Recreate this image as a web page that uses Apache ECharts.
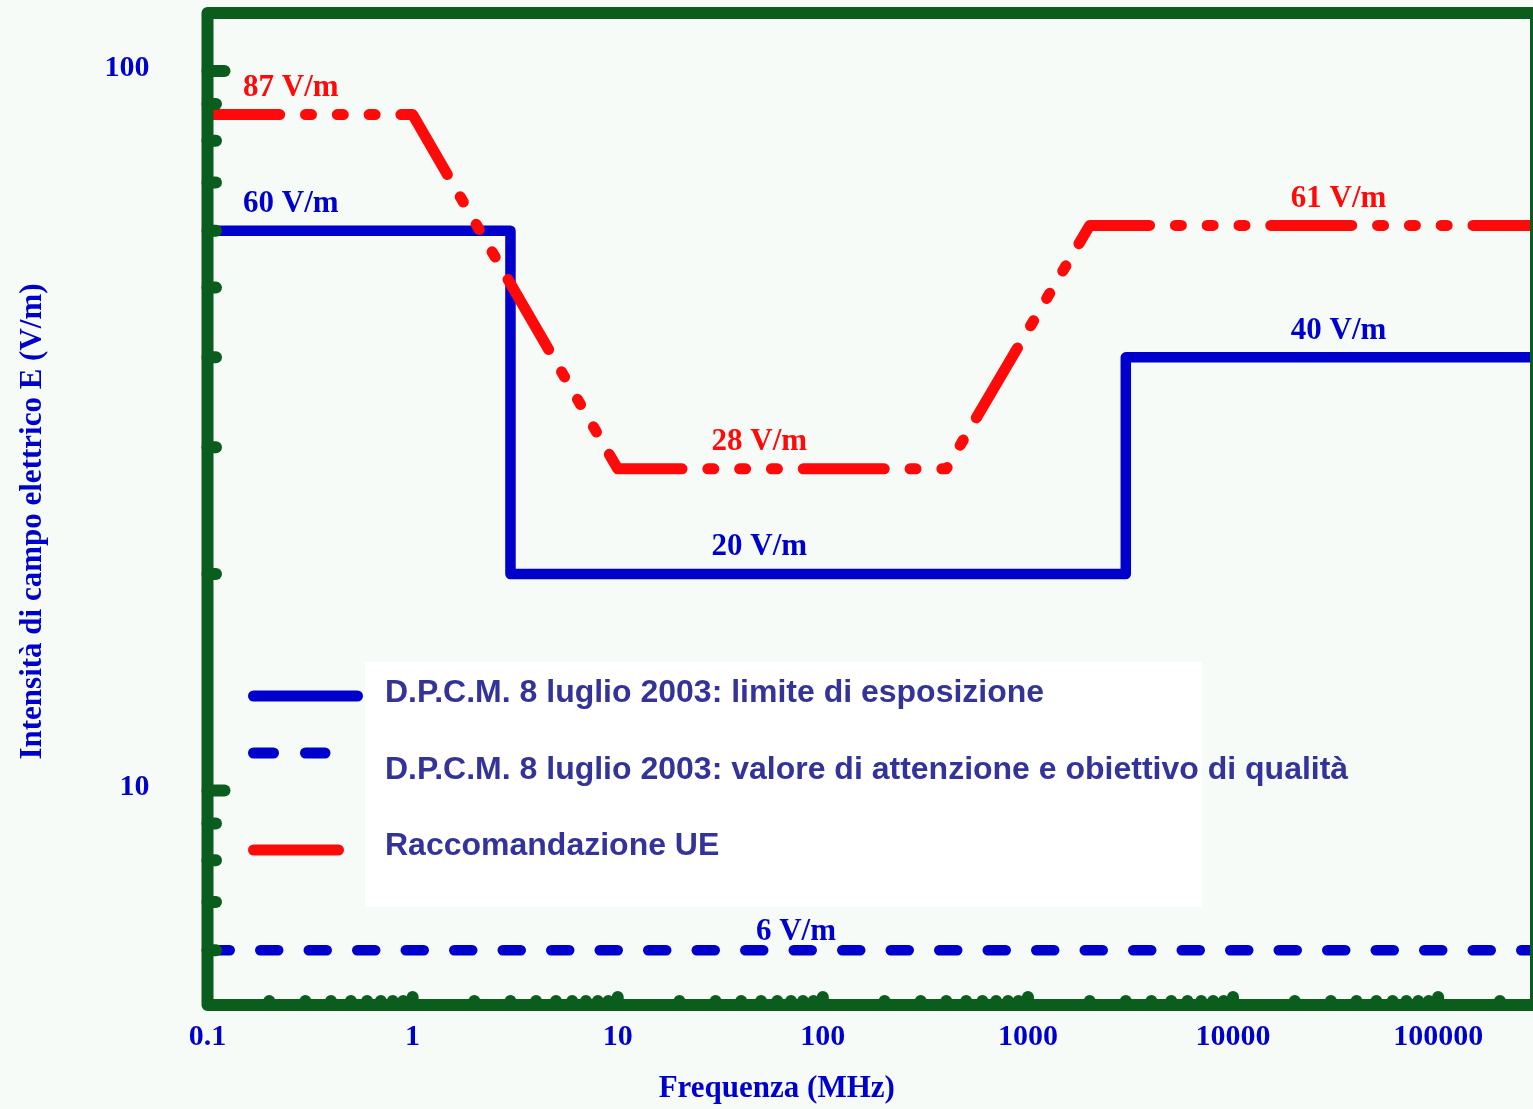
<!DOCTYPE html>
<html>
<head>
<meta charset="utf-8">
<title>Limiti di esposizione ai campi elettrici</title>
<script src="https://cdn.jsdelivr.net/npm/echarts@6/dist/echarts.min.js"></script>
<style>
  html, body { margin: 0; padding: 0; background: #f6fbf7; }
  #chart { width: 1533px; height: 1109px; }
</style>
</head>
<body>
<div id="chart"></div>
<script>
// Frequency breakpoints (MHz) and electric field strengths (V/m)
const limitFreq = [0.1, 3, 3, 3000, 3000, 300000];
const limitE = [60, 60, 20, 20, 40, 40];

const attentionFreq = [0.1, 300000];
const attentionE = [6, 6];

const ueFreq = [0.1, 1, 10, 400, 2000, 300000];
const ueE = [87, 87, 28, 28, 61, 61];

// Value annotations: frequency where each note sits, field value, which curve it belongs to
const noteFreq = [0.255, 0.255, 49, 49, 32700, 32700, 74];
const noteE = [87, 60, 28, 20, 61, 40, 6];
const noteCurve = ['ue', 'limit', 'ue', 'limit', 'ue', 'limit', 'attention'];

// Axis tick labels and log minor-tick multipliers
const xTickLabels = ['0.1', '1', '10', '100', '1000', '10000', '100000'];
const yTickLabels = ['10', '100'];
const minorMultipliers = [2, 3, 4, 5, 6, 7, 8, 9];

const seriesNames = {
  limit: 'D.P.C.M. 8 luglio 2003: limite di esposizione',
  attention: 'D.P.C.M. 8 luglio 2003: valore di attenzione e obiettivo di qualità',
  ue: 'Raccomandazione UE'
};

const X_MIN = 0.1, X_MAX = 300000;
const Y_MIN = 5.035, Y_MAX = 120.4;

const GREEN = '#0b5d1e';
const BLUE = '#0000cc';
const RED = '#ff0a0a';
const LEGEND_TEXT = '#333399';
const SERIF = "'Liberation Serif', 'Times New Roman', serif";
const SANS = "'Liberation Sans', Arial, sans-serif";

const zip = (xs, ys) => xs.map((x, i) => [x, ys[i]]);

// Axis frame + tick marks, drawn on top of the curves.
// dims: [x, y, kind (0 = x tick, 1 = y tick, 2 = frame), major, label index]
const axisMarks = [[X_MIN, Y_MIN, 2, 0, -1]];
xTickLabels.forEach((t, i) => axisMarks.push([parseFloat(t), Y_MIN, 0, i > 0 ? 1 : 0, i]));
yTickLabels.forEach((t, i) => axisMarks.push([X_MIN, parseFloat(t), 1, 1, i]));
xTickLabels.forEach(t => {
  const base = parseFloat(t);
  minorMultipliers.forEach(m => {
    const v = base * m;
    if (v < X_MAX) axisMarks.push([v, Y_MIN, 0, 0, -1]);
  });
});
[1, 10].forEach(base => {
  minorMultipliers.forEach(m => {
    const v = base * m;
    if (v > Y_MIN && v < Y_MAX && v !== 10 && v !== 100) axisMarks.push([X_MIN, v, 1, 0, -1]);
  });
});

function renderAxisMarks(params, api) {
  const cs = params.coordSys;
  const kind = api.value(2);
  const major = api.value(3) === 1;
  const li = api.value(4);
  const stroke = { stroke: GREEN, lineWidth: 12, lineCap: 'round', fill: null };
  if (kind === 2) {
    return {
      type: 'rect',
      shape: { x: cs.x, y: cs.y, width: cs.width, height: cs.height },
      style: { stroke: GREEN, lineWidth: 12, lineJoin: 'round', fill: null }
    };
  }
  const pt = api.coord([api.value(0), api.value(1)]);
  const children = [];
  if (kind === 1) {
    const len = major ? 17 : 8.5;
    children.push({ type: 'line', shape: { x1: cs.x, y1: pt[1], x2: cs.x + len, y2: pt[1] }, style: stroke });
    if (li >= 0) {
      children.push({
        type: 'text',
        style: {
          text: yTickLabels[li], x: cs.x - 58, y: pt[1] - 3,
          align: 'right', verticalAlign: 'middle',
          font: 'bold 30px ' + SERIF, fill: BLUE
        }
      });
    }
  } else {
    const yb = cs.y + cs.height;
    const len = major ? 8 : 4;
    if (api.value(0) > X_MIN) {
      children.push({ type: 'line', shape: { x1: pt[0], y1: yb, x2: pt[0], y2: yb - len }, style: stroke });
    }
    if (li >= 0) {
      children.push({
        type: 'text',
        style: {
          text: xTickLabels[li], x: pt[0], y: yb + 32,
          align: 'center', verticalAlign: 'middle',
          font: 'bold 30px ' + SERIF, fill: BLUE
        }
      });
    }
  }
  return { type: 'group', children };
}

const curveColor = { limit: BLUE, attention: BLUE, ue: RED };
const noteData = noteFreq.map((f, i) => ({
  value: [f, noteE[i]],
  label: {
    color: curveColor[noteCurve[i]],
    offset: [0, noteCurve[i] === 'attention' ? -18.5 : -26.5]
  }
}));

const chart = echarts.init(document.getElementById('chart'), null, { renderer: 'canvas', width: 1533, height: 1109 });

chart.setOption({
  backgroundColor: '#f6fbf7',
  animation: false,
  grid: { left: 207.5, top: 13, right: -3, bottom: 104, show: false, containLabel: false, outerBoundsMode: 'none' },
  xAxis: {
    type: 'log', logBase: 10, min: X_MIN, max: X_MAX,
    axisLine: { show: false }, axisTick: { show: false }, axisLabel: { show: false }, splitLine: { show: false },
    name: 'Frequenza (MHz)', nameLocation: 'middle', nameGap: 68,
    nameTextStyle: { color: BLUE, fontFamily: SERIF, fontWeight: 'bold', fontSize: 31, padding: [0, 190, 0, 0] }
  },
  yAxis: {
    type: 'log', logBase: 10, min: Y_MIN, max: Y_MAX,
    axisLine: { show: false }, axisTick: { show: false }, axisLabel: { show: false }, splitLine: { show: false },
    name: 'Intensità di campo elettrico E (V/m)', nameLocation: 'middle', nameGap: 159, nameRotate: 90,
    nameTextStyle: { color: BLUE, fontFamily: SERIF, fontWeight: 'bold', fontSize: 31, padding: [0, 25, 0, 0] }
  },
  graphic: [
    { type: 'rect', z: 10, shape: { x: 365, y: 662, width: 837, height: 245 }, style: { fill: '#ffffff' } },
    { type: 'line', z: 11, shape: { x1: 253.5, y1: 696, x2: 357.5, y2: 696 }, style: { stroke: BLUE, lineWidth: 11, lineCap: 'round' } },
    { type: 'line', z: 11, shape: { x1: 253.5, y1: 753, x2: 325, y2: 753 }, style: { stroke: BLUE, lineWidth: 11, lineCap: 'round', lineDash: [20, 32] } },
    { type: 'line', z: 11, shape: { x1: 253.5, y1: 850, x2: 338.5, y2: 850 }, style: { stroke: RED, lineWidth: 11, lineCap: 'round' } },
    { type: 'text', z: 11, style: { text: seriesNames.limit, x: 385, y: 693, verticalAlign: 'middle', font: 'bold 32px ' + SANS, fill: LEGEND_TEXT } },
    { type: 'text', z: 11, style: { text: seriesNames.attention, x: 385, y: 770, verticalAlign: 'middle', font: 'bold 32px ' + SANS, fill: LEGEND_TEXT } },
    { type: 'text', z: 11, style: { text: seriesNames.ue, x: 385, y: 846, verticalAlign: 'middle', font: 'bold 32px ' + SANS, fill: LEGEND_TEXT } }
  ],
  series: [
    {
      name: seriesNames.attention, type: 'line', data: zip(attentionFreq, attentionE),
      symbol: 'none', clip: true, z: 2,
      lineStyle: { color: BLUE, width: 10.5, type: [18, 30.5], dashOffset: 44.25, cap: 'round', join: 'round' }
    },
    {
      name: seriesNames.limit, type: 'line', data: zip(limitFreq, limitE),
      symbol: 'none', clip: true, z: 2,
      lineStyle: { color: BLUE, width: 10.5, type: 'solid', cap: 'round', join: 'round' }
    },
    {
      name: seriesNames.ue, type: 'line', data: zip(ueFreq, ueE),
      symbol: 'none', clip: true, z: 3,
      // dash-dot-dot-dot pattern
      lineStyle: { color: RED, width: 11, type: [81, 25.8, 6, 25.8, 6, 25.8, 6, 25.8], dashOffset: 8.8, cap: 'round', join: 'round' }
    },
    {
      name: 'valori', type: 'scatter', data: noteData, symbolSize: 1, z: 4,
      itemStyle: { color: 'transparent', opacity: 1 },
      label: {
        show: true, position: 'inside', opacity: 1, textBorderWidth: 0,
        formatter: p => p.value[1] + ' V/m',
        fontFamily: SERIF, fontWeight: 'bold', fontSize: 31
      }
    },
    {
      name: 'assi', type: 'custom', data: axisMarks, renderItem: renderAxisMarks,
      clip: false, silent: true, z: 6
    }
  ]
});
</script>
</body>
</html>
